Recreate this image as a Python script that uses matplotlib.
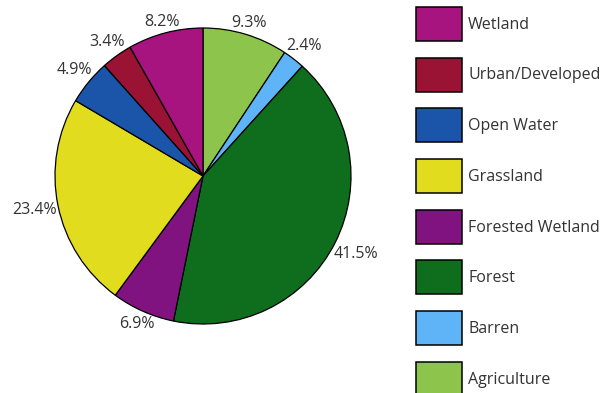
import matplotlib
matplotlib.use("Agg")
import numpy as np
import matplotlib.pyplot as plt

# Land cover shares, clockwise from 12 o'clock
categories = ["Agriculture", "Barren", "Forest", "Forested Wetland",
              "Grassland", "Open Water", "Urban/Developed", "Wetland"]
shares = [9.3, 2.4, 41.5, 6.9, 23.4, 4.9, 3.4, 8.2]
colors = ["#8DC54C", "#5EB4F6", "#0E6E1E", "#80137F",
          "#E2DC1E", "#1A55A9", "#9A1234", "#A7137F"]

plt.rcParams["font.family"] = ["Open Sans", "DejaVu Sans"]
TEXT = "#333333"
FS = 11.5  # pt

W, H = 600, 393
fig = plt.figure(figsize=(W / 100, H / 100), dpi=100)

# pie axes: centre (203, 176) px, radius 148 px
cx, cy, r = 203, 176, 148
ax = fig.add_axes([(cx - r) / W, (H - cy - r) / H, 2 * r / W, 2 * r / H])
wedges, _, autotexts = ax.pie(
    shares, colors=colors, startangle=90, counterclock=False,
    autopct="%.1f%%", pctdistance=1.1,
    wedgeprops=dict(edgecolor="black", linewidth=0.9),
    textprops=dict(color=TEXT, fontsize=FS),
)
ax.set_xlim(-1, 1)
ax.set_ylim(-1, 1)

# push each percentage label just clear of the rim, allowing for its size
fig.canvas.draw()
renderer = fig.canvas.get_renderer()
gap_px = 1.0
for w, t in zip(wedges, autotexts):
    t.set_clip_on(False)
    a = np.deg2rad((w.theta1 + w.theta2) / 2)
    bb = t.get_window_extent(renderer)
    hw, hh = bb.width / 2, bb.height / 2 * 0.8
    d = 1 + (gap_px + hw * abs(np.cos(a)) + hh * abs(np.sin(a))) / r
    t.set_position((d * np.cos(a), d * np.sin(a)))

# legend listed in reverse pie order, with large swatches
pt_per_px = 72 / 100
box_w, box_h, pitch, pad = 46, 34, 50.7, 6  # px
# legend patch height = fs*h - 0.35*fs*(h - 0.7)
hh_units = (box_h * pt_per_px / FS - 0.245) / 0.65
leg = fig.legend(
    wedges[::-1], categories[::-1],
    loc="upper left", bbox_to_anchor=(416 / W, 1 - 7 / H),
    frameon=False, fontsize=FS, borderpad=0, borderaxespad=0,
    handlelength=box_w * pt_per_px / FS, handleheight=hh_units,
    labelspacing=(pitch - box_h) * pt_per_px / FS,
    handletextpad=pad * pt_per_px / FS,
)
for txt in leg.get_texts():
    txt.set_color(TEXT)
for h in leg.legend_handles:
    h.set_edgecolor("black")
    h.set_linewidth(1.1)

fig.savefig("out.png", dpi=100)
